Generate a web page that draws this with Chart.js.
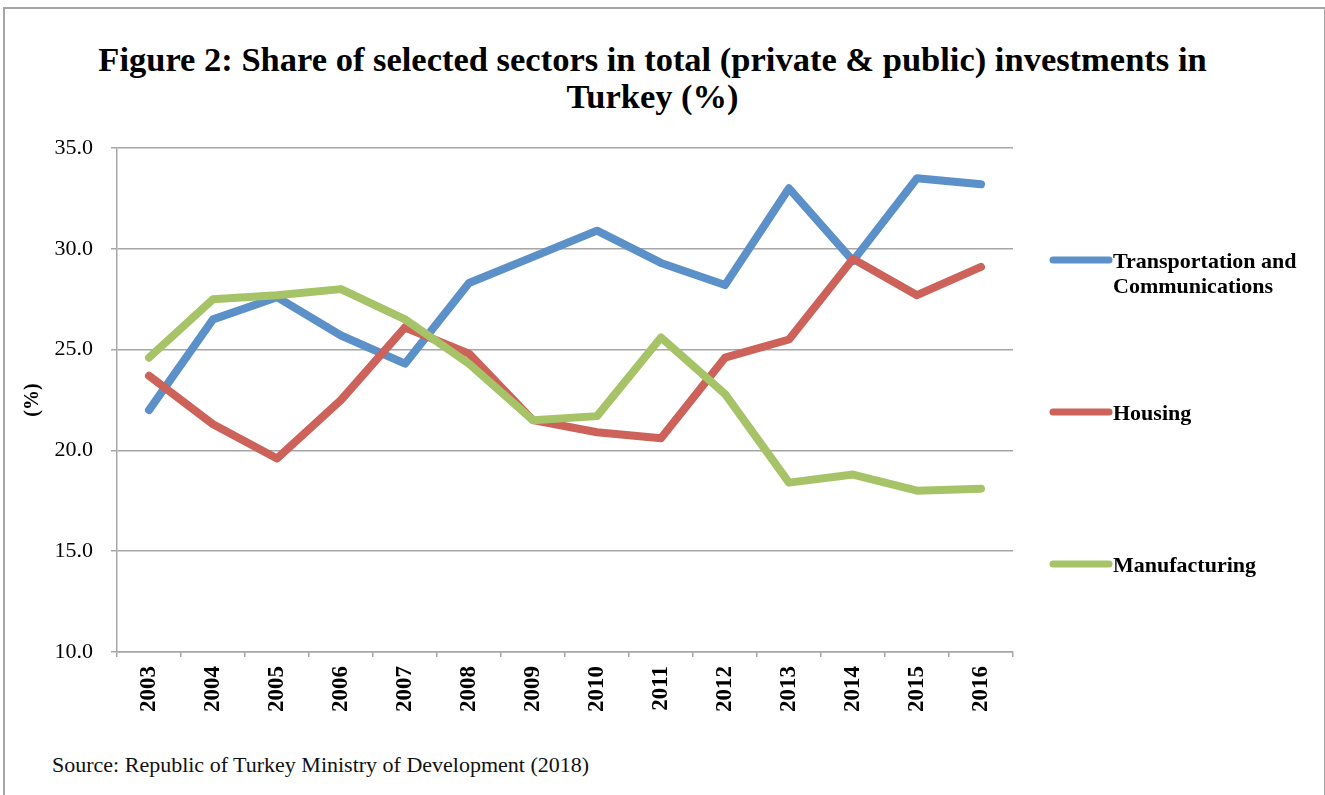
<!DOCTYPE html>
<html>
<head>
<meta charset="utf-8">
<title>Sector shares of investment</title>
<script src="https://cdn.jsdelivr.net/npm/chart.js@4.4.1/dist/chart.umd.min.js"></script>
<style>
  html, body { margin: 0; padding: 0; background: #fff; }
  #frame {
    position: absolute; left: 3px; top: 7px; width: 1323px; height: 820px;
    border: 2px solid #a6a6a6; border-bottom: none; box-sizing: border-box;
  }
  #title {
    position: absolute; left: 0; top: 41px; width: 1305px; text-align: center;
    font: bold 34.5px "Liberation Serif", serif; line-height: 37px; color: #000;
  }
  #chart { position: absolute; left: 0; top: 0; }
  #source {
    position: absolute; left: 52px; top: 752px;
    font: 22px "Liberation Serif", serif; color: #111;
  }
</style>
</head>
<body>
<div id="frame"></div>
<div id="title">Figure 2: Share of selected sectors in total (private &amp; public) investments in<br>Turkey (%)</div>
<canvas id="chart" width="1325" height="740"></canvas>
<div id="source">Source: Republic of Turkey Ministry of Development (2018)</div>

<script>
const years = ['2003', '2004', '2005', '2006', '2007', '2008', '2009',
               '2010', '2011', '2012', '2013', '2014', '2015', '2016'];

const transport     = [22.0, 26.5, 27.6, 25.7, 24.3, 28.3, 29.6, 30.9, 29.3, 28.2, 33.0, 29.4, 33.5, 33.2];
const housing       = [23.7, 21.3, 19.6, 22.5, 26.1, 24.8, 21.5, 20.9, 20.6, 24.6, 25.5, 29.5, 27.7, 29.1];
const manufacturing = [24.6, 27.5, 27.7, 28.0, 26.5, 24.3, 21.5, 21.7, 25.6, 22.8, 18.4, 18.8, 18.0, 18.1];

// legend text, one entry per line of the label
const seriesNames = [
  ['Transportation and', 'Communications'],
  ['Housing'],
  ['Manufacturing']
];
const seriesColors = ['#5b90c8', '#cc6259', '#a6c368'];

const gridGrey = '#a6a6a6';
const serif = '"Liberation Serif", serif';

// Excel-style legend: evenly spaced entries to the right of the plot
const sideLegend = {
  id: 'sideLegend',
  afterDraw(chart) {
    const ctx = chart.ctx;
    const x0 = 1053, x1 = 1109, textX = 1113;
    const firstY = 260, step = 152;
    ctx.save();
    chart.data.datasets.forEach((ds, i) => {
      const y = firstY + i * step;
      ctx.strokeStyle = ds.borderColor;
      ctx.lineWidth = 7;
      ctx.lineCap = 'round';
      ctx.beginPath();
      ctx.moveTo(x0, y);
      ctx.lineTo(x1, y);
      ctx.stroke();
      ctx.fillStyle = '#000';
      ctx.font = 'bold 22px ' + serif;
      ctx.textBaseline = 'middle';
      ctx.textAlign = 'left';
      seriesNames[i].forEach((line, j) => {
        ctx.fillText(line, textX, y + 2 + j * 25);
      });
    });
    ctx.restore();
  }
};

const makeSeries = (i, data, order) => ({
  label: seriesNames[i].join(' '),
  data: data,
  borderColor: seriesColors[i],
  backgroundColor: seriesColors[i],
  borderWidth: 8,
  borderCapStyle: 'round',
  borderJoinStyle: 'round',
  pointRadius: 0,
  tension: 0,
  order: order
});

new Chart(document.getElementById('chart'), {
  type: 'line',
  data: {
    labels: years,
    datasets: [
      makeSeries(0, transport, 2),
      makeSeries(1, housing, 1),
      makeSeries(2, manufacturing, 0)
    ]
  },
  options: {
    responsive: false,
    animation: false,
    layout: { padding: { left: 0, right: 312, top: 148, bottom: 0 } },
    plugins: {
      legend: { display: false },
      title: { display: false },
      tooltip: { enabled: false }
    },
    scales: {
      x: {
        offset: true,
        grid: {
          offset: true,
          drawOnChartArea: false,
          tickLength: 5,
          color: gridGrey,
          lineWidth: 1.5
        },
        border: { color: gridGrey, width: 1.5 },
        ticks: {
          minRotation: 90,
          maxRotation: 90,
          padding: 9,
          color: '#000',
          font: { family: serif, size: 23, weight: 'bold' }
        },
        afterFit(scale) { scale.height = 88; }
      },
      y: {
        min: 10,
        max: 35,
        grid: { color: gridGrey, lineWidth: 1.5, tickLength: 6 },
        border: { color: gridGrey, width: 1.5 },
        ticks: {
          stepSize: 5,
          padding: 18,
          color: '#000',
          font: { family: serif, size: 22 },
          callback: v => v.toFixed(1)
        },
        title: {
          display: true,
          text: '(%)',
          color: '#000',
          font: { family: serif, size: 20, weight: 'bold' },
          padding: { top: 21 }
        },
        afterFit(scale) { scale.width = 117; }
      }
    }
  },
  plugins: [sideLegend]
});
</script>
</body>
</html>
